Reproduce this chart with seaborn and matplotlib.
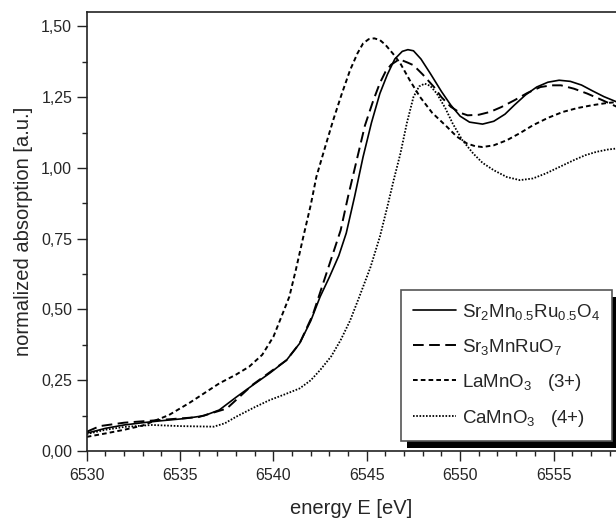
import numpy as np
import pandas as pd
import seaborn as sns
import matplotlib.pyplot as plt
from matplotlib.patches import Rectangle
from matplotlib.transforms import IdentityTransform
from matplotlib.ticker import MultipleLocator, FuncFormatter

# Sr2Mn0.5Ru0.5O4 (solid)
e_sr2 = [6530, 6531, 6532, 6533, 6534, 6535.3, 6536.3, 6537.1, 6538, 6538.9, 6539.8,
         6540.7, 6541.4, 6542, 6542.5, 6543.0, 6543.5, 6543.9, 6544.35, 6544.8, 6545.25,
         6545.7, 6546.1, 6546.5, 6546.9, 6547.2, 6547.5, 6547.9, 6548.4, 6549.0, 6549.5,
         6550.0, 6550.5, 6551.2, 6551.8, 6552.4, 6552.9, 6553.5, 6554.1, 6554.7, 6555.3,
         6555.9, 6556.5, 6557.1, 6557.7, 6558.4]
a_sr2 = [0.063, 0.08, 0.092, 0.10, 0.107, 0.115, 0.125, 0.145, 0.19, 0.233, 0.275,
         0.321, 0.38, 0.46, 0.545, 0.615, 0.69, 0.77, 0.90, 1.039, 1.16,
         1.263, 1.33, 1.385, 1.412, 1.418, 1.414, 1.385, 1.334, 1.27, 1.222,
         1.183, 1.162, 1.155, 1.165, 1.19, 1.222, 1.258, 1.286, 1.303, 1.31,
         1.306, 1.293, 1.272, 1.252, 1.233]

# Sr3MnRuO7 (long dash)
e_sr3 = [6530, 6530.7, 6532, 6534, 6536, 6537.5, 6538.9, 6540.7, 6541.4, 6542.1, 6542.8,
         6543.6, 6544.0, 6544.5, 6544.9, 6545.35, 6545.7, 6546.0, 6546.3, 6546.6, 6546.9,
         6547.2, 6547.5, 6548.0, 6548.6, 6549.0, 6549.5, 6550.0, 6550.4, 6551.0, 6551.6,
         6552.2, 6552.9, 6553.6, 6554.3, 6554.9, 6555.4, 6556.1, 6556.8, 6557.6, 6558.4]
a_sr3 = [0.068, 0.088, 0.10, 0.11, 0.12, 0.15, 0.235, 0.321, 0.38, 0.48, 0.62,
         0.78, 0.90, 1.039, 1.15, 1.239, 1.30, 1.34, 1.365, 1.378, 1.38,
         1.372, 1.363, 1.33, 1.286, 1.25, 1.216, 1.195, 1.186, 1.188, 1.198,
         1.215, 1.239, 1.265, 1.286, 1.292, 1.292, 1.28, 1.263, 1.24, 1.216]

# LaMnO3 (short dash)
e_la = [6530, 6531, 6532, 6533, 6534.4, 6535.5, 6537.1, 6538.0, 6538.7, 6539.4, 6540.0,
        6540.4, 6540.85, 6541.2, 6541.6, 6542.0, 6542.3, 6542.75, 6543.2, 6543.65, 6544.1,
        6544.5, 6544.8, 6545.1, 6545.4, 6545.7, 6546.0, 6546.4, 6546.8, 6547.3, 6547.85,
        6548.5, 6549.3, 6549.8, 6550.35, 6550.8, 6551.2, 6551.8, 6552.5, 6553.2, 6553.9,
        6554.7, 6555.5, 6556.3, 6557.1, 6557.8, 6558.4]
a_la = [0.05, 0.062, 0.075, 0.09, 0.127, 0.17, 0.239, 0.27, 0.298, 0.34, 0.404,
        0.47, 0.545, 0.64, 0.757, 0.87, 0.969, 1.07, 1.169, 1.26, 1.345,
        1.405, 1.44, 1.455, 1.458, 1.452, 1.435, 1.404, 1.369, 1.31, 1.251,
        1.195, 1.145, 1.112, 1.087, 1.077, 1.074, 1.08, 1.098, 1.123, 1.151,
        1.177, 1.198, 1.212, 1.222, 1.229, 1.233]

# CaMnO3 (dotted)
e_ca = [6530, 6531, 6532, 6533.5, 6535, 6536.8, 6537.4, 6538.0, 6539.0, 6539.8, 6540.6,
        6541.4, 6542.0, 6542.5, 6543.1, 6543.6, 6544.1, 6544.6, 6545.2, 6545.7, 6546.1,
        6546.45, 6546.8, 6547.15, 6547.5, 6547.8, 6548.1, 6548.4, 6548.75, 6549.2, 6549.6,
        6550.1, 6550.7, 6551.2, 6551.8, 6552.5, 6553.2, 6553.9, 6554.6, 6555.3, 6556.1,
        6556.7, 6557.3, 6557.9, 6558.4]
a_ca = [0.06, 0.075, 0.085, 0.092, 0.088, 0.086, 0.098, 0.121, 0.155, 0.18, 0.2,
        0.221, 0.25, 0.286, 0.335, 0.392, 0.46, 0.545, 0.65, 0.757, 0.863,
        0.96, 1.051, 1.16, 1.251, 1.288, 1.298, 1.29, 1.263, 1.212, 1.157,
        1.1, 1.051, 1.018, 0.992, 0.968, 0.957, 0.963, 0.981, 1.003, 1.028,
        1.045, 1.057, 1.065, 1.069]

labels = [r'Sr$_\mathregular{2}$Mn$_\mathregular{0.5}$Ru$_\mathregular{0.5}$O$_\mathregular{4}$',
          r'Sr$_\mathregular{3}$MnRuO$_\mathregular{7}$',
          r'LaMnO$_\mathregular{3}$   (3+)',
          r'CaMnO$_\mathregular{3}$   (4+)']

sns.set_style('ticks')
plt.rcParams['font.family'] = ['Liberation Sans', 'DejaVu Sans']
plt.rcParams['mathtext.default'] = 'regular'

fig = plt.figure(figsize=(6.16, 5.19), dpi=100)
ax = fig.add_axes([0.1408, 0.1310, 0.8593, 0.8453])

series = [(e_sr2, a_sr2, '-', 1.2),
          (e_sr3, a_sr3, (0, (5.5, 2.8)), 1.4),
          (e_la, a_la, (0, (2.4, 1.6)), 1.4),
          (e_ca, a_ca, (0, (0.9, 0.9)), 1.3)]
for (e, a, ls, lw), lab in zip(series, labels):
    df = pd.DataFrame({'energy': e, 'absorption': a})
    sns.lineplot(data=df, x='energy', y='absorption', ax=ax, color='black',
                 linestyle=ls, linewidth=lw, label=lab)

ax.set_xlim(6530, 6558.35)
ax.set_ylim(0, 1.55)
ax.xaxis.set_major_locator(MultipleLocator(5))
ax.xaxis.set_minor_locator(MultipleLocator(1))
ax.yaxis.set_major_locator(MultipleLocator(0.25))
ax.yaxis.set_minor_locator(MultipleLocator(0.125))
ax.yaxis.set_major_formatter(FuncFormatter(lambda v, p: f'{v:.2f}'.replace('.', ',')))
ax.tick_params(which='major', direction='out', length=7, width=1.0, labelsize=11.5, color='#222222')
ax.tick_params(which='minor', direction='out', length=3.5, width=1.0, color='#222222')
ax.tick_params(axis='x', pad=5)
for s in ['left', 'top', 'bottom']:
    ax.spines[s].set_linewidth(1.2)
    ax.spines[s].set_color('#222222')
ax.spines['right'].set_visible(False)

ax.set_xlabel('energy E [eV]', fontsize=14.5, labelpad=12)
ax.set_ylabel('normalized absorption [a.u.]', fontsize=14.5, labelpad=6)

leg = ax.legend(loc='lower right', bbox_to_anchor=(612 / 616, 78 / 519),
                bbox_transform=fig.transFigure, borderaxespad=0, fontsize=13.5,
                frameon=True, fancybox=False, framealpha=1, edgecolor='#555555',
                handlelength=2.3, handletextpad=0.3, labelspacing=0.8,
                borderpad=0.65)
leg.get_frame().set_linewidth(1.2)

fig.canvas.draw()
bb = leg.get_frame().get_window_extent(fig.canvas.get_renderer())
ax.add_patch(Rectangle((bb.x0 + 6, bb.y0 - 7), bb.width, bb.height,
                       transform=IdentityTransform(), facecolor='black',
                       edgecolor='none', zorder=4.5, clip_on=False))

fig.savefig('out.png', dpi=100)
